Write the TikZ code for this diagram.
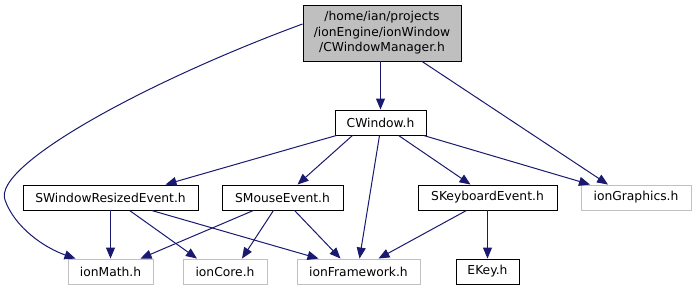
\documentclass[tikz,border=0pt]{standalone}
\usepackage{fontspec}
\setmainfont{DejaVu Sans}
\usetikzlibrary{arrows.meta}
\definecolor{edgeblue}{HTML}{191970}
\definecolor{topfill}{HTML}{BFBFBF}
\definecolor{extgray}{HTML}{C0C0C0}
\begin{document}
\begin{tikzpicture}[x=1pt,y=-1pt,
  hdr/.style={draw=black,line width=0.9pt,minimum height=25pt,inner sep=0pt,
    font=\fontsize{12.3}{14}\selectfont,anchor=center},
  ext/.style={hdr,draw=extgray},
  incl/.style={draw=edgeblue,line width=1pt,
    -{Triangle[length=11pt,width=9pt]},fill=none}]
\useasboundingbox (0,0) rectangle (696,291);
% file whose includes are shown
\node[hdr,fill=topfill,minimum width=158pt,minimum height=56pt,align=center,
  font=\fontsize{12.3}{15.5}\selectfont] (mgr) at (382,33)
  {/home/ian/projects\\/ionEngine/ionWindow\\/CWindowManager.h};
\node[hdr,minimum width=91pt] (cw) at (380.5,122.5) {CWindow.h};
\node[hdr,minimum width=175pt] (swr) at (110.5,197.5) {SWindowResizedEvent.h};
\node[hdr,minimum width=121pt] (smo) at (282.5,197.5) {SMouseEvent.h};
\node[hdr,minimum width=139pt] (skb) at (487.5,197.5) {SKeyboardEvent.h};
\node[ext,minimum width=110pt] (gfx) at (636,197.5) {ionGraphics.h};
\node[ext,minimum width=85pt] (math) at (110.5,271.5) {ionMath.h};
\node[ext,minimum width=84pt] (core) at (225,271.5) {ionCore.h};
\node[ext,minimum width=123pt] (fw) at (358.5,271.5) {ionFramework.h};
\node[hdr,minimum width=63pt] (ekey) at (487.5,271.5) {EKey.h};
% include edges
\draw[incl] (mgr.south -| cw.north) -- (cw.north);
\draw[incl] ([yshift=9pt]mgr.west) .. controls (150,80) and (-8,165) .. (5,200)
  .. controls (15,228) and (45,248) .. ([xshift=-35pt]math.north);
\draw[incl] ([xshift=40pt]mgr.south) -- ([xshift=-28pt]gfx.north);
\draw[incl] ([xshift=-44pt]cw.south) -- ([xshift=55pt]swr.north);
\draw[incl] ([xshift=-28pt]cw.south) -- ([xshift=15pt]smo.north);
\draw[incl] ([xshift=-1pt]cw.south) -- ([xshift=1pt]fw.north);
\draw[incl] ([xshift=18pt]cw.south) -- ([xshift=-17pt]skb.north);
\draw[incl] ([xshift=43pt]cw.south) -- ([xshift=-46pt]gfx.north);
\draw[incl] (swr.south -| math.north) -- (math.north);
\draw[incl] ([xshift=19pt]swr.south) -- ([xshift=-28pt]core.north);
\draw[incl] ([xshift=41pt]swr.south) -- ([xshift=-40pt]fw.north);
\draw[incl] ([xshift=-29pt]smo.south) -- ([xshift=30pt]math.north);
\draw[incl] ([xshift=-9pt]smo.south) -- ([xshift=17pt]core.north);
\draw[incl] ([xshift=12pt]smo.south) -- ([xshift=-18pt]fw.north);
\draw[incl] ([xshift=-21pt]skb.south) -- ([xshift=20pt]fw.north);
\draw[incl] (skb.south) -- (ekey.north);
\end{tikzpicture}
\end{document}
